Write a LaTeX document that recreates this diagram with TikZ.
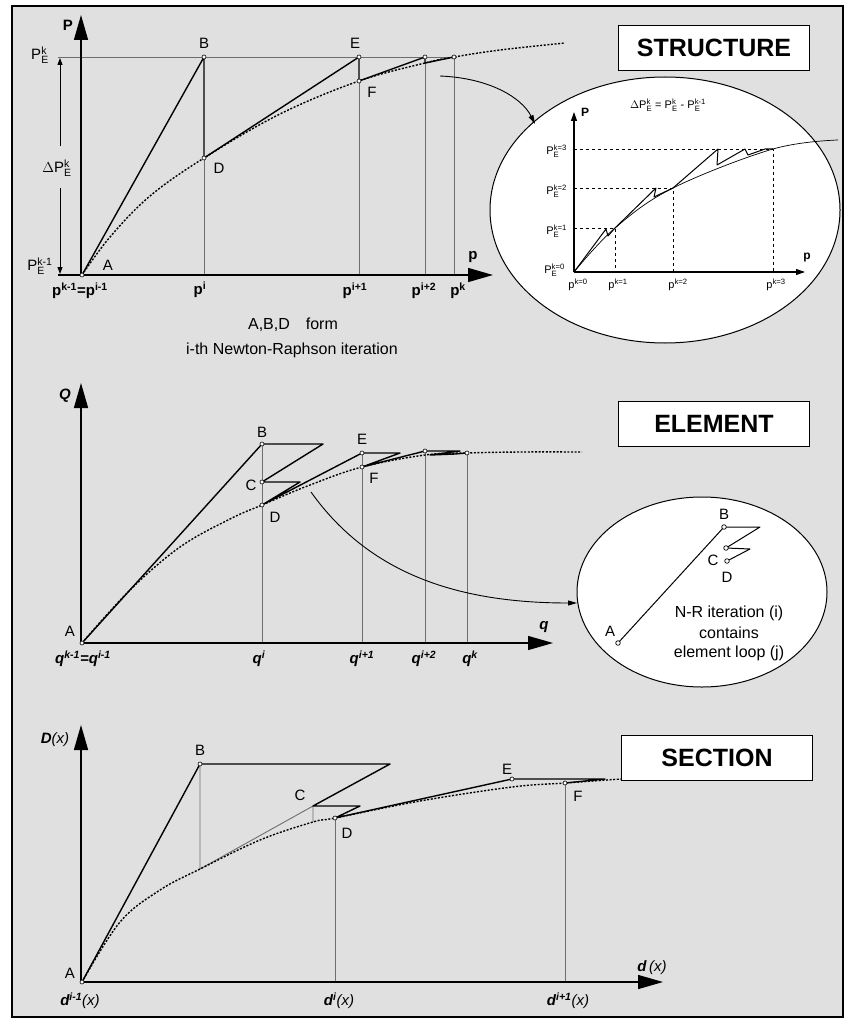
\documentclass[tikz,border=0pt]{standalone}
\usepackage{amsmath}
\usepackage{fontspec}
\setmainfont{Liberation Sans}
\setsansfont{Liberation Sans}
\usetikzlibrary{arrows.meta}

\definecolor{panelgray}{RGB}{224,224,224}
\definecolor{guidegray}{RGB}{110,110,110}
\newcommand{\fsz}[1]{\fontsize{#1}{#1}\selectfont}
\newcommand{\PE}[1]{P$^{\text{#1}}_{\text{E}}$}

\begin{document}
\begin{tikzpicture}[x=1pt,y=-1pt,
  axis/.style={line width=1.4pt,-{Triangle[length=25pt,width=14pt]}},
  small axis/.style={line width=1.1pt,-{Triangle[length=9pt,width=6pt]}},
  guide/.style={guidegray,line width=0.9pt},
  iter/.style={line width=1.4pt,line join=round},
  thin iter/.style={line width=1pt,line join=round},
  curve/.style={line width=1.4pt,dash pattern=on 2pt off 1.6pt},
  lab/.style={font=\fsz{15}},
  axlab/.style={font=\fsz{15}\bfseries},
  qlab/.style={font=\fsz{15}\bfseries\itshape},
  txt/.style={font=\fsz{16}},
  small/.style={font=\fsz{11},inner sep=1pt},
  title/.style={draw,line width=1.2pt,fill=white,font=\fsz{25}\bfseries,
    minimum width=191pt,minimum height=45pt,inner sep=0pt},
  bubble/.style={draw,line width=1pt,fill=white},
  link/.style={line width=0.9pt,-{Triangle[length=9pt,width=5pt]}}
]
\useasboundingbox (0,0) rectangle (846,1019);
\draw[line width=1.2pt,fill=panelgray] (12,6) rectangle (843,1017);

%% ---------------- STRUCTURE ----------------
\coordinate (A1) at (82,275);
\coordinate (B1) at (204,57);
\coordinate (D1) at (204,158);
\coordinate (E1) at (359,57);
\coordinate (F1) at (359,81);
\coordinate (G1) at (425,57);
\coordinate (H1) at (425,63);
\coordinate (K1) at (454,57);

% levels and stations
\draw[guide] (58,57) -- (457,57);
\draw[guide] (D1) -- (204,275);
\draw[guide] (F1) -- (359,275);
\draw[guide] (H1) -- (425,275);
\draw[guide] (K1) -- (454,275);

% axes
\draw[axis] (58,275) -- (493,275);
\draw[axis] (81,275) -- (81,15);

% load increment
\draw[line width=1pt,-{Triangle[length=7pt,width=5pt]}] (60,146) -- (60,58);
\draw[line width=1pt,-{Triangle[length=7pt,width=5pt]}] (60,188) -- (60,274);

% equilibrium path and iterations
\draw[curve] plot[smooth,tension=0.6] coordinates
  {(82,275) (110,237) (150,196) (204,158) (280,114) (359,81) (425,63) (454,57) (500,50) (565,43)};
\draw[iter] (A1) -- (B1) -- (D1) -- (E1) -- (F1) -- (G1) -- (H1) -- (K1);
\foreach \p in {A1,B1,D1,E1,F1,G1,K1}
  \draw[fill=white,line width=0.6pt] (\p) circle[radius=2pt];

\node[axlab] (lP) at (68,25) {P};
\node[lab] (lPEk) at (40,55) {\PE{k}};
\node[lab] (lPEk1) at (40,266) {\PE{k-1}};
\node[lab] (lDP) at (57,168) {$\Delta$\PE{k}};
\node[lab] (lA1) at (108,265) {A};
\node[lab] (lB1) at (204,43) {B};
\node[lab] (lD1) at (219,168) {D};
\node[lab] (lE1) at (355,43) {E};
\node[lab] (lF1) at (372,92) {F};
\node[axlab] (lp) at (473,257) {p};
\node[axlab] (lpk1) at (80,291) {p$^{\text{k-1}}$=p$^{\text{i-1}}$};
\node[axlab] (lpi) at (200,290) {p$^{\text{i}}$};
\node[axlab] (lpi1) at (355,291) {p$^{\text{i+1}}$};
\node[axlab] (lpi2) at (424,291) {p$^{\text{i+2}}$};
\node[axlab] (lpk) at (458,291) {p$^{\text{k}}$};

\node[txt] (note1) at (293,325) {A,B,D\hspace{16pt}form};
\node[txt] (note2) at (292,350) {i-th Newton-Raphson iteration};

\node[title] (tS) at (714,48) {STRUCTURE};

% zoomed load steps
\draw[bubble] (665,210) ellipse [x radius=175, y radius=133];
\coordinate (O4) at (574,272);
\coordinate (S1) at (615,228);
\coordinate (S2) at (673,188);
\coordinate (S3) at (773,149);
\draw[small axis] (O4) -- (805,272);
\draw[small axis] (O4) -- (574,112);
\draw[dashed,line width=0.9pt] (574,228) -- (S1) -- (615,272);
\draw[dashed,line width=0.9pt] (574,188) -- (S2) -- (673,272);
\draw[dashed,line width=0.9pt] (574,149) -- (S3) -- (773,272);
\draw[line width=0.7pt] plot[smooth,tension=0.6] coordinates
  {(574,272) (615,228) (673,188) (773,149) (838,140)};
\draw[thin iter] (O4) -- (606,229) -- (608,236) -- (S1);
\draw[thin iter] (S1) -- (656,188) -- (654,197) -- (S2);
\draw[thin iter] (S2) -- (718,149) -- (717,165) -- (745,149) -- (748,155) -- (765,149) -- (S3);

\node[small,font=\fsz{12}\bfseries] (eP) at (585,112) {P};
\node[small,font=\fsz{12}\bfseries] (ep) at (807,258) {p};
\node[small] (eform) at (668,105) {$\Delta$\PE{k} = \PE{k} - \PE{k-1}};
\node[small,anchor=east] (eP3) at (568,151) {\PE{k=3}};
\node[small,anchor=east] (eP2) at (568,191) {\PE{k=2}};
\node[small,anchor=east] (eP1) at (568,231) {\PE{k=1}};
\node[small,anchor=east] (eP0) at (566,270) {\PE{k=0}};
\node[small] (ep0) at (578,285) {p$^{\text{k=0}}$};
\node[small] (ep1) at (618,285) {p$^{\text{k=1}}$};
\node[small] (ep2) at (678,285) {p$^{\text{k=2}}$};
\node[small] (ep3) at (776,285) {p$^{\text{k=3}}$};

\draw[link] (440,76) .. controls (490,78) and (522,98) .. (535,124);

%% ---------------- ELEMENT ----------------
\coordinate (A2) at (82,643);
\coordinate (B2) at (262,444);
\coordinate (C2) at (262,482);
\coordinate (D2) at (262,505);
\coordinate (E2) at (362,453);
\coordinate (F2) at (362,467);
\coordinate (G2) at (425,451);
\coordinate (K2) at (467,453);

\draw[guide] (B2) -- (262,643);
\draw[guide] (E2) -- (362,643);
\draw[guide] (G2) -- (425,643);
\draw[guide] (K2) -- (467,643);

\draw[axis] (81,643) -- (553,643);
\draw[axis] (81,643) -- (81,383);

\draw[curve] plot[smooth,tension=0.6] coordinates
  {(82,643) (130,590) (180,547) (230,519) (262,505) (310,485) (362,467) (425,455) (467,453) (520,452) (582,452)};
\draw[iter] (A2) -- (B2) -- (323,444) -- (C2) -- (300,482) -- (D2) -- (E2) -- (400,453) -- (F2)
  -- (G2) -- (460,451) -- (430,455) -- (455,454) -- (K2);
\foreach \p in {A2,B2,C2,D2,E2,F2,G2,K2}
  \draw[fill=white,line width=0.6pt] (\p) circle[radius=2pt];

\node[qlab] (lQ) at (65,396) {Q};
\node[lab] (lA2) at (70,631) {A};
\node[lab] (lB2) at (262,432) {B};
\node[lab] (lC2) at (251,485) {C};
\node[lab] (lD2) at (275,517) {D};
\node[lab] (lE2) at (362,439) {E};
\node[lab] (lF2) at (374,478) {F};
\node[qlab] (lq) at (544,627) {q};
\node[qlab] (lqk1) at (83,659) {q$^{\text{k-1}}$=q$^{\text{i-1}}$};
\node[qlab] (lqi) at (259,659) {q$^{\text{i}}$};
\node[qlab] (lqi1) at (362,659) {q$^{\text{i+1}}$};
\node[qlab] (lqi2) at (424,659) {q$^{\text{i+2}}$};
\node[qlab] (lqk) at (470,659) {q$^{\text{k}}$};

\node[title] (tE) at (714,424) {ELEMENT};

% zoomed element loop
\draw[bubble] (702,592) ellipse [x radius=125, y radius=95];
\coordinate (A5) at (618,643);
\coordinate (B5) at (724,527);
\coordinate (C5) at (726,548);
\coordinate (D5) at (727,561);
\draw[line width=1pt,line join=round] (A5) -- (B5) -- (760,527) -- (C5) -- (750,549) -- (D5);
\foreach \p in {A5,B5,C5,D5}
  \draw[fill=white,line width=0.7pt] (\p) circle[radius=2.3pt];
\node[lab] (lA5) at (610,631) {A};
\node[lab] (lB5) at (724,514) {B};
\node[lab] (lC5) at (713,560) {C};
\node[lab] (lD5) at (727,577) {D};
\node[txt] (loop1) at (729,613) {N-R iteration (i)};
\node[txt] (loop2) at (729,633) {contains};
\node[txt] (loop3) at (729,653) {element loop (j)};

\draw[link] (311,492) .. controls (370,575) and (460,603) .. (577,603);

%% ---------------- SECTION ----------------
\coordinate (A3) at (82,982);
\coordinate (B3) at (200,764);
\coordinate (M3) at (200,869);
\coordinate (C3) at (313,806);
\coordinate (N3) at (313,822);
\coordinate (D3) at (335,818);
\coordinate (E3) at (512,779);
\coordinate (F3) at (565,783);

\draw[guide] (B3) -- (M3) -- (C3) -- (N3);
\draw[guide] (D3) -- (335,982);
\draw[guide] (F3) -- (565,982);

\draw[axis] (81,982) -- (663,982);
\draw[axis] (81,982) -- (81,725);

\draw[curve] plot[smooth,tension=0.6] coordinates
  {(82,982) (120,922) (160,890) (200,869) (260,840) (313,822) (335,818) (420,801) (512,787) (565,783) (621,779)};
\draw[iter] (A3) -- (B3) -- (390,764) -- (C3) -- (360,806) -- (D3) -- (E3) -- (605,779) -- (F3);
\foreach \p in {A3,B3,D3,E3,F3}
  \draw[fill=white,line width=0.6pt] (\p) circle[radius=2pt];

\node[qlab] (lDx) at (55,740) {\textit{D}\mdseries(x)};
\node[lab] (lA3) at (70,973) {A};
\node[lab] (lB3) at (200,750) {B};
\node[lab] (lC3) at (300,795) {C};
\node[lab] (lD3) at (347,833) {D};
\node[lab] (lE3) at (507,769) {E};
\node[lab] (lF3) at (578,796) {F};
\node[qlab] (ldx) at (652,968) {d\mdseries\,(x)};
\node[qlab] (ldi1) at (80,1001) {d$^{\text{i-1}}$\mdseries(x)};
\node[qlab] (ldi) at (339,1001) {d$^{\text{i}}$\mdseries(x)};
\node[qlab] (ldi2) at (568,1001) {d$^{\text{i+1}}$\mdseries(x)};

\node[title] (tC) at (717,758) {SECTION};
\end{tikzpicture}
\end{document}
